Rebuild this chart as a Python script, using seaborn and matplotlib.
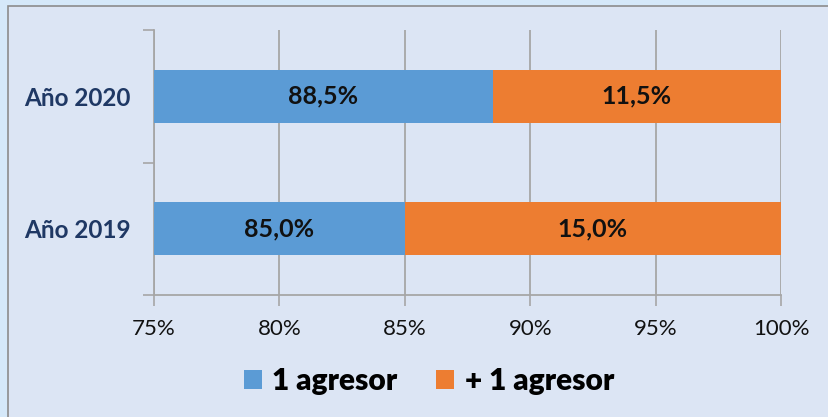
import matplotlib
matplotlib.use("Agg")
import matplotlib.pyplot as plt
import seaborn as sns
import pandas as pd
from matplotlib.patches import Rectangle, Patch

categories = ["Año 2020", "Año 2019"]
one_aggressor = [88.5, 85.0]
more_aggressor = [11.5, 15.0]
series_names = ["1 agresor", "+ 1 agresor"]
x_ticks = [75, 80, 85, 90, 95, 100]

blue = "#5B9BD5"
orange = "#ED7D31"
grid_c = "#A6A6A6"
panel_bg = "#DCE5F4"

sns.set_theme(style="white")
plt.rcParams["font.family"] = ["Lato", "DejaVu Sans"]

fig = plt.figure(figsize=(8.29, 4.17), dpi=100)
fig.patch.set_facecolor("#D5E8F9")
# inner panel
fig.patches.append(Rectangle((8/829, -0.01), 1.0, 1 - 6/417 + 0.01, transform=fig.transFigure,
                             facecolor=panel_bg, edgecolor="#8C8C8C", linewidth=1.2, zorder=-10))

ax = fig.add_axes([154/829, 1 - 295/417, (781 - 154)/829, (295 - 30)/417])
ax.set_facecolor("none")
ax.set_zorder(1)

df = pd.DataFrame({
    "cat": categories,
    "one": one_aggressor,
    "total": [a + b for a, b in zip(one_aggressor, more_aggressor)],
})

sns.barplot(data=df, y="cat", x="total", color=orange, orient="h", width=0.4,
            saturation=1, ax=ax, zorder=3, linewidth=0)
sns.barplot(data=df, y="cat", x="one", color=blue, orient="h", width=0.4,
            saturation=1, ax=ax, zorder=4, linewidth=0)

ax.set_xlim(75, 100)
ax.set_ylim(1.5, -0.5)
ax.set_xticks(x_ticks)
ax.set_xticklabels([f"{t}%" for t in x_ticks], fontsize=16, color="#111111")
ax.set_yticks(range(len(categories)))
ax.set_yticklabels(categories, fontsize=17.5, fontweight="bold", color="#1F3864")
ax.tick_params(axis="y", length=0, pad=17)
ax.set_yticks([-0.5, 0.5, 1.5], minor=True)
ax.tick_params(axis="y", which="minor", length=8, width=1.2, color=grid_c, direction="out", left=True)
ax.tick_params(axis="x", length=8, width=1.2, color=grid_c, direction="out", bottom=True, pad=9)
ax.set_xlabel("")
ax.set_ylabel("")
ax.grid(axis="x", color=grid_c, linewidth=1.3, zorder=1)
ax.set_axisbelow(True)
for s in ["top", "right"]:
    ax.spines[s].set_visible(False)
for s in ["left", "bottom"]:
    ax.spines[s].set_color(grid_c)
    ax.spines[s].set_linewidth(1.3)

for i, (a, b) in enumerate(zip(one_aggressor, more_aggressor)):
    ax.text((75 + a) / 2, i, f"{a:.1f}%".replace(".", ","), ha="center", va="center",
            fontsize=18, fontweight="bold", color="#111111", zorder=5)
    ax.text((a + 100) / 2, i, f"{b:.1f}%".replace(".", ","), ha="center", va="center",
            fontsize=18, fontweight="bold", color="#111111", zorder=5)

handles = [Patch(facecolor=blue, edgecolor="none"), Patch(facecolor=orange, edgecolor="none")]
leg = fig.legend(handles, series_names, loc="center", bbox_to_anchor=(429/829, 1 - 381/417),
                 ncol=2, frameon=False, prop={"size": 21.5, "weight": "heavy"},
                 handlelength=0.6, handleheight=0.6, handletextpad=0.35, columnspacing=1.3)
for t in leg.get_texts():
    t.set_color("#000000")

fig.savefig("out.png", dpi=100, facecolor=fig.get_facecolor())
